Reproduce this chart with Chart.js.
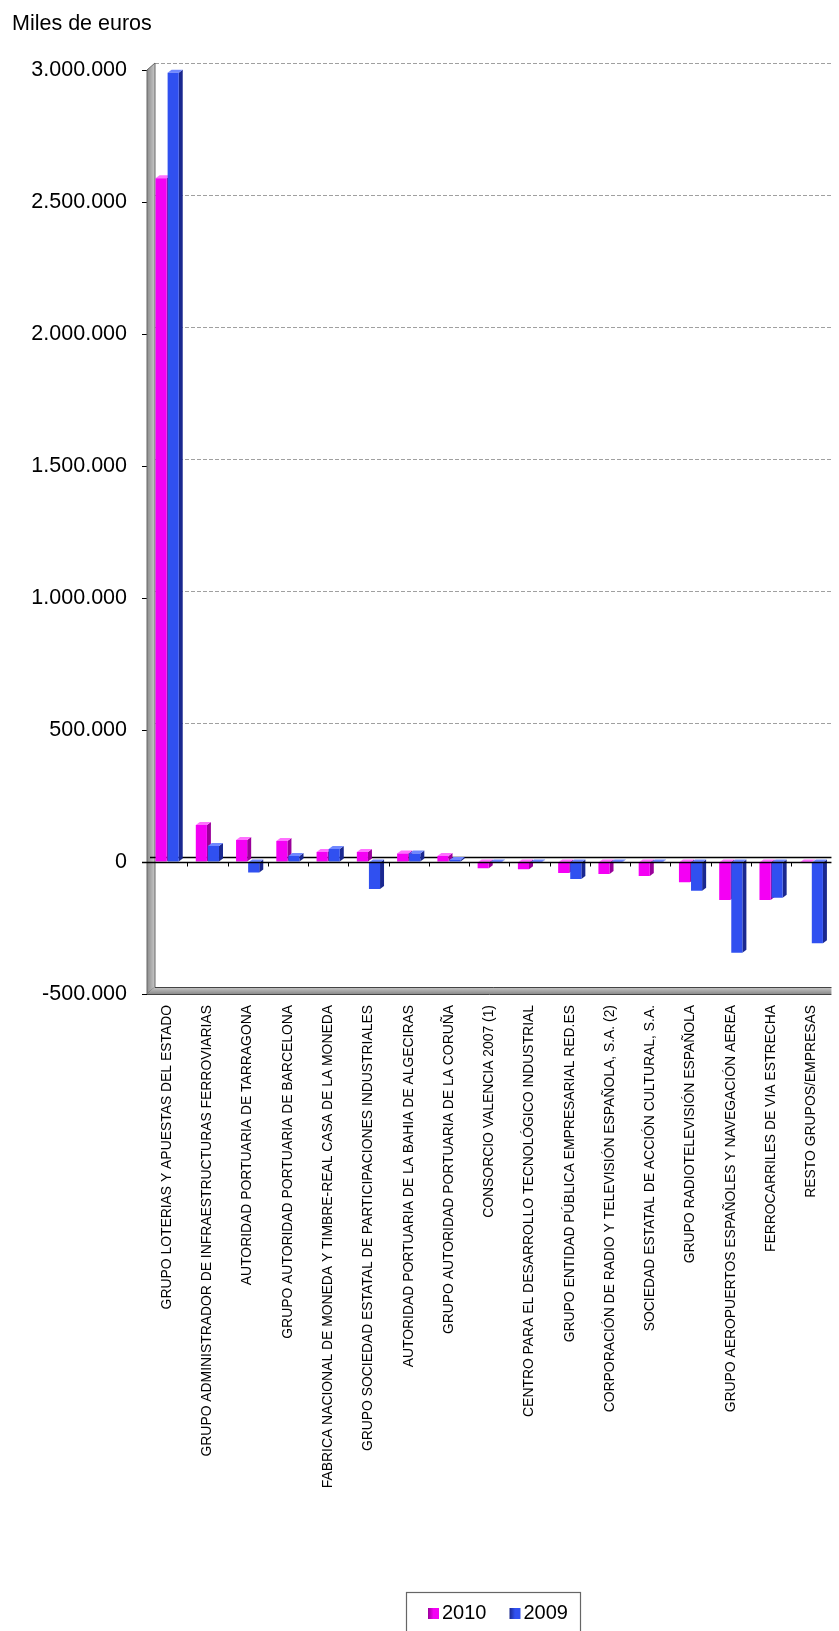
<!DOCTYPE html>
<html>
<head>
<meta charset="utf-8">
<script src="https://cdn.jsdelivr.net/npm/chart.js@4.4.1/dist/chart.umd.min.js"></script>
<style>
html,body{margin:0;padding:0;background:#fff;}
canvas{display:block;}
</style>
</head>
<body>
<canvas id="c" width="839" height="1631"></canvas>
<script>
const categories = [
  "GRUPO LOTERIAS Y APUESTAS DEL ESTADO",
  "GRUPO ADMINISTRADOR DE INFRAESTRUCTURAS FERROVIARIAS",
  "AUTORIDAD PORTUARIA DE TARRAGONA",
  "GRUPO AUTORIDAD PORTUARIA DE BARCELONA",
  "FABRICA NACIONAL DE MONEDA Y TIMBRE-REAL CASA DE LA MONEDA",
  "GRUPO SOCIEDAD ESTATAL DE PARTICIPACIONES INDUSTRIALES",
  "AUTORIDAD PORTUARIA DE LA BAHIA DE ALGECIRAS",
  "GRUPO AUTORIDAD PORTUARIA DE LA CORUÑA",
  "CONSORCIO VALENCIA 2007 (1)",
  "CENTRO PARA EL DESARROLLO TECNOLÓGICO INDUSTRIAL",
  "GRUPO ENTIDAD PÚBLICA EMPRESARIAL RED.ES",
  "CORPORACIÓN DE RADIO Y TELEVISIÓN ESPAÑOLA, S.A. (2)",
  "SOCIEDAD ESTATAL DE ACCIÓN CULTURAL, S.A.",
  "GRUPO RADIOTELEVISIÓN ESPAÑOLA",
  "GRUPO AEROPUERTOS ESPAÑOLES Y NAVEGACIÓN AEREA",
  "FERROCARRILES DE VIA ESTRECHA",
  "RESTO GRUPOS/EMPRESAS"
];
const values2010 = [2590000, 140000, 83000, 80000, 38000, 38000, 32000, 23000, -24000, -27000, -42000, -45000, -53000, -77000, -144000, -144000, -3000];
const values2009 = [2990000, 61000, -40000, 23000, 49000, -102000, 32000, 8000, -3000, -3000, -64000, -3000, -3000, -109000, -344000, -135000, -308000];
const seriesLabels = ["2010", "2009"];
const yTickValues = [-500000, 0, 500000, 1000000, 1500000, 2000000, 2500000, 3000000];
const yTitle = "Miles de euros";

const FONT = "'Liberation Sans', Arial, sans-serif";
Chart.defaults.font.family = FONT;
Chart.defaults.color = '#000';

function fmt(v) {
  const s = Math.abs(v).toString().replace(/\B(?=(\d{3})+(?!\d))/g, '.');
  return (v < 0 ? '-' : '') + s;
}

const faceColors = [
  {front: '#F400F4', side: '#9A009A', top: '#FF70FF'},
  {front: '#3050F0', side: '#1A2890', top: '#7088FF'}
];
const DX = 4, DY = 3;

const deco = {
  id: 'deco',
  beforeDraw(chart) {
    const ctx = chart.ctx;
    ctx.save();
    ctx.fillStyle = '#fff';
    ctx.fillRect(0, 0, chart.width, chart.height);
    ctx.fillStyle = '#000';
    ctx.font = '21.5px ' + FONT;
    ctx.textBaseline = 'alphabetic';
    ctx.fillText(yTitle, 12, 30);
    ctx.restore();
  },
  beforeDatasetsDraw(chart) {
    const ctx = chart.ctx;
    const a = chart.chartArea;
    const y = chart.scales.y;
    const wx = 8, wy = 7;
    ctx.save();
    ctx.strokeStyle = '#a0a0a0';
    ctx.lineWidth = 1;
    ctx.setLineDash([4, 2]);
    yTickValues.forEach(v => {
      if (v === 0 || v === yTickValues[0]) return;
      const py = Math.round(y.getPixelForValue(v) - wy) + 0.5;
      ctx.beginPath();
      ctx.moveTo(a.left + wx, py);
      ctx.lineTo(a.right, py);
      ctx.stroke();
    });
    ctx.setLineDash([]);
    const g = ctx.createLinearGradient(a.left, 0, a.left + wx, 0);
    g.addColorStop(0, '#8c8c8c');
    g.addColorStop(1, '#c8c8c8');
    ctx.fillStyle = g;
    ctx.beginPath();
    ctx.moveTo(a.left, a.top);
    ctx.lineTo(a.left + wx, a.top - wy);
    ctx.lineTo(a.left + wx, a.bottom - wy);
    ctx.lineTo(a.left, a.bottom);
    ctx.closePath();
    ctx.fill();
    ctx.strokeStyle = '#666';
    ctx.stroke();
    const gf = ctx.createLinearGradient(0, a.bottom - wy, 0, a.bottom);
    gf.addColorStop(0, '#c8c8c8');
    gf.addColorStop(1, '#8c8c8c');
    ctx.fillStyle = gf;
    ctx.beginPath();
    ctx.moveTo(a.left, a.bottom);
    ctx.lineTo(a.left + wx, a.bottom - wy);
    ctx.lineTo(a.right, a.bottom - wy);
    ctx.lineTo(a.right, a.bottom);
    ctx.closePath();
    ctx.fill();
    ctx.strokeStyle = '#444';
    ctx.beginPath();
    ctx.moveTo(a.left + wx, a.bottom - wy + 0.5);
    ctx.lineTo(a.right, a.bottom - wy + 0.5);
    ctx.moveTo(a.left, a.bottom + 0.5);
    ctx.lineTo(a.right, a.bottom + 0.5);
    ctx.stroke();
    const z = y.getPixelForValue(0);
    ctx.strokeStyle = '#000';
    ctx.lineWidth = 1.5;
    ctx.beginPath();
    ctx.moveTo(a.left + wx - 5, Math.round(z - 5) + 0.5);
    ctx.lineTo(a.right, Math.round(z - 5) + 0.5);
    ctx.stroke();
    chart.data.datasets.forEach((ds, di) => {
      const meta = chart.getDatasetMeta(di);
      const c = faceColors[di];
      meta.data.forEach(el => {
        const p = el.getProps(['x', 'y', 'base', 'width'], true);
        const l = p.x - p.width / 2, r = p.x + p.width / 2;
        const topY = Math.min(p.y, p.base), botY = Math.max(p.y, p.base);
        ctx.fillStyle = c.side;
        ctx.beginPath();
        ctx.moveTo(r, topY);
        ctx.lineTo(r + DX, topY - DY);
        ctx.lineTo(r + DX, botY - DY);
        ctx.lineTo(r, botY);
        ctx.closePath();
        ctx.fill();
        ctx.fillStyle = c.top;
        ctx.beginPath();
        ctx.moveTo(l, topY);
        ctx.lineTo(r, topY);
        ctx.lineTo(r + DX, topY - DY);
        ctx.lineTo(l + DX, topY - DY);
        ctx.closePath();
        ctx.fill();
      });
    });
    ctx.restore();
  },
  afterDatasetsDraw(chart) {
    const ctx = chart.ctx;
    const a = chart.chartArea;
    const y = chart.scales.y, x = chart.scales.x;
    const z = Math.round(y.getPixelForValue(0)) + 0.5;
    ctx.save();
    ctx.strokeStyle = '#000';
    ctx.lineWidth = 1.5;
    ctx.beginPath();
    ctx.moveTo(a.left - 5, z);
    ctx.lineTo(a.right, z);
    ctx.stroke();
    ctx.lineWidth = 1;
    const n = chart.data.labels.length;
    const step = (a.right - a.left) / n;
    ctx.beginPath();
    for (let i = 1; i < n; i++) {
      const px = Math.round(x.getPixelForValue(i) - step / 2) + 0.5;
      ctx.moveTo(px, z);
      ctx.lineTo(px, z + 4);
    }
    ctx.stroke();
    ctx.font = '20px ' + FONT;
    ctx.textBaseline = 'middle';
    const bx = 406, by = 1592, bw = 174;
    ctx.strokeStyle = '#666';
    ctx.lineWidth = 1.2;
    ctx.strokeRect(bx + 0.5, by + 0.5, bw, 60);
    let cx = 428;
    const cy = 1613.5;
    chart.data.datasets.forEach((ds, di) => {
      const gg = ctx.createLinearGradient(cx, 0, cx + 11, 0);
      gg.addColorStop(0, faceColors[di].side);
      gg.addColorStop(0.5, faceColors[di].front);
      gg.addColorStop(1, faceColors[di].front);
      ctx.fillStyle = gg;
      ctx.fillRect(cx, cy - 5.5, 11, 11);
      ctx.fillStyle = '#000';
      ctx.fillText(ds.label, cx + 14, cy);
      cx += 14 + ctx.measureText(ds.label).width + 23;
    });
    ctx.restore();
  }
};

new Chart(document.getElementById('c'), {
  type: 'bar',
  data: {
    labels: categories,
    datasets: [
      {label: seriesLabels[0], data: values2010, backgroundColor: faceColors[0].front, categoryPercentage: 0.6, barPercentage: 0.92},
      {label: seriesLabels[1], data: values2009, backgroundColor: faceColors[1].front, categoryPercentage: 0.6, barPercentage: 0.92}
    ]
  },
  options: {
    responsive: false,
    animation: false,
    layout: {padding: {top: 70, left: 0, right: 0, bottom: 0}},
    plugins: {legend: {display: false}, tooltip: {enabled: false}},
    scales: {
      x: {
        grid: {display: false, drawTicks: false},
        border: {display: false},
        ticks: {
          autoSkip: false, minRotation: 90, maxRotation: 90, padding: 11,
          font: {size: 13.9, family: FONT}, color: '#000'
        },
        afterFit(s) { s.height = 637; }
      },
      y: {
        min: yTickValues[0],
        max: yTickValues[yTickValues.length - 1],
        afterBuildTicks(s) { s.ticks = yTickValues.map(v => ({value: v})); },
        grid: {drawOnChartArea: false, drawTicks: true, tickLength: 5, tickColor: '#000'},
        border: {display: true, color: '#555', width: 1},
        ticks: {
          padding: 15, font: {size: 21.5, family: FONT}, color: '#000',
          callback: v => fmt(v)
        },
        afterFit(s) { s.width = 147; }
      }
    }
  },
  plugins: [deco]
});
</script>
</body>
</html>
